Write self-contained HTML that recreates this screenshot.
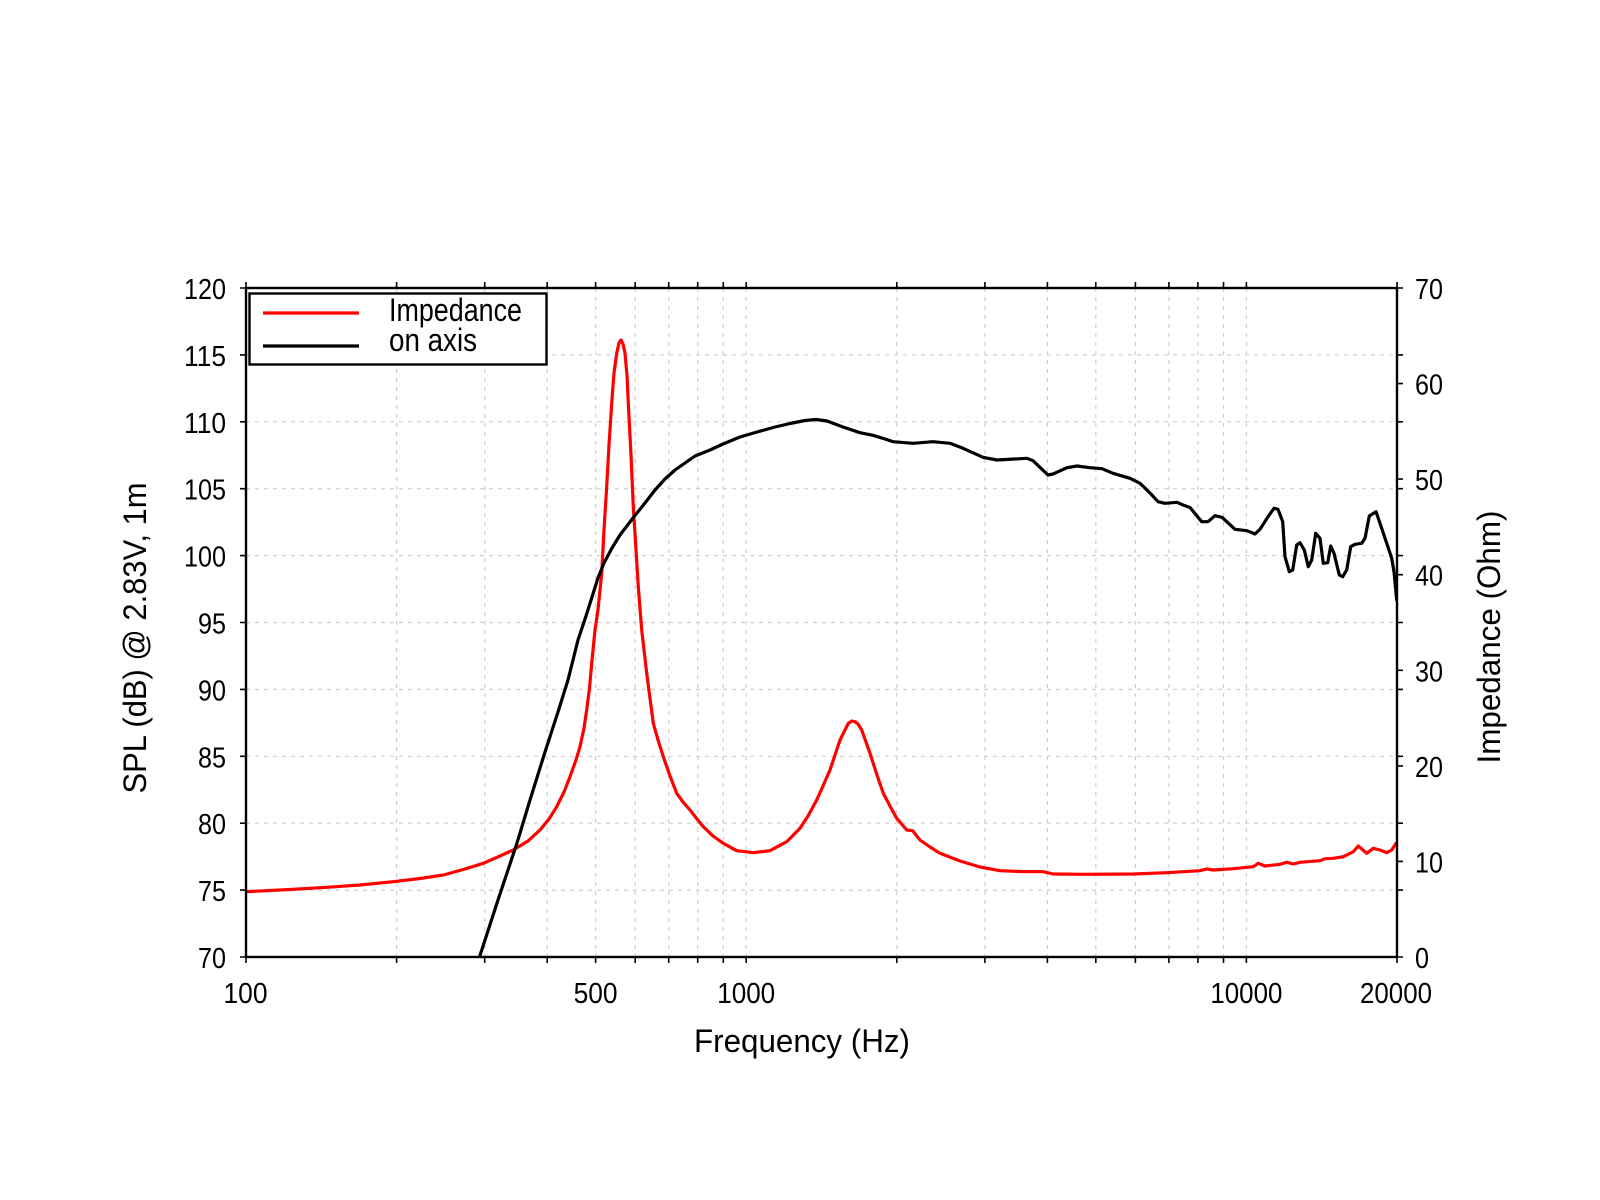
<!DOCTYPE html>
<html>
<head>
<meta charset="utf-8">
<style>
html,body{margin:0;padding:0;background:#fff;}
svg{display:block;}
text{font-family:"Liberation Sans",sans-serif;fill:#000;}
</style>
</head>
<body>
<svg width="1600" height="1200" viewBox="0 0 1600 1200" xmlns="http://www.w3.org/2000/svg">
<rect width="1600" height="1200" fill="#fff"/>
<defs>
<clipPath id="pc"><rect x="246" y="288" width="1151" height="669"/></clipPath>
</defs>
<!-- grid -->
<g stroke="#cfcfcf" stroke-width="1.2" stroke-dasharray="4,5" fill="none">
<path d="M396.6 288V957M484.7 288V957M547.2 288V957M595.6 288V957M635.2 288V957M668.7 288V957M697.7 288V957M723.3 288V957M746.2 288V957M896.8 288V957M984.9 288V957M1047.4 288V957M1095.8 288V957M1135.4 288V957M1168.9 288V957M1197.9 288V957M1223.5 288V957M1246.4 288V957"/>
<path d="M246 354.9H1397M246 421.8H1397M246 488.7H1397M246 555.6H1397M246 622.5H1397M246 689.4H1397M246 756.3H1397M246 823.2H1397M246 890.1H1397"/>
</g>
<!-- ticks -->
<g stroke="#000" stroke-width="1.6" fill="none">
<path d="M240 288H246M240 354.9H246M240 421.8H246M240 488.7H246M240 555.6H246M240 622.5H246M240 689.4H246M240 756.3H246M240 823.2H246M240 890.1H246M240 957H246"/>
<path d="M1397 288H1403M1397 354.9H1403M1397 421.8H1403M1397 488.7H1403M1397 555.6H1403M1397 622.5H1403M1397 689.4H1403M1397 756.3H1403M1397 823.2H1403M1397 890.1H1403M1397 957H1403"/>
<path d="M1397 383.6H1403M1397 479.1H1403M1397 574.7H1403M1397 670.3H1403M1397 765.9H1403M1397 861.4H1403"/>
<path d="M246 957V963M396.6 957V963M484.7 957V963M547.2 957V963M595.6 957V963M635.2 957V963M668.7 957V963M697.7 957V963M723.3 957V963M746.2 957V963M896.8 957V963M984.9 957V963M1047.4 957V963M1095.8 957V963M1135.4 957V963M1168.9 957V963M1197.9 957V963M1223.5 957V963M1246.4 957V963M1397 957V963"/>
<path d="M246 282V288M396.6 282V288M484.7 282V288M547.2 282V288M595.6 282V288M635.2 282V288M668.7 282V288M697.7 282V288M723.3 282V288M746.2 282V288M896.8 282V288M984.9 282V288M1047.4 282V288M1095.8 282V288M1135.4 282V288M1168.9 282V288M1197.9 282V288M1223.5 282V288M1246.4 282V288M1397 282V288"/>
</g>
<!-- curves -->
<g clip-path="url(#pc)" fill="none" stroke-linejoin="round" stroke-linecap="round" stroke-width="3.2">
<polyline stroke="#ff0000" points="246,891.7 290,889.5 326.7,887.3 360,885 393.3,881.7 420,878.5 443.3,875 465,869 483.3,863.3 500,856 513.3,850 528,841 540,830 549,819 556.7,806.7 564,792 570,776.7 576,760 580,746.7 584,728 586.7,710 589.5,688 591.7,663.3 595,630 598,610 601.7,573.3 604,530 606.7,486.7 609,445 611.7,403.3 614,373 616.7,353.3 619,343 621,340 623,344 625,353.3 627,375 628.3,403.3 631,455 633.3,506.7 636,550 638.3,586.7 641.7,630 646.7,673.3 653.3,723.3 658,740 663.3,756.7 670,776 676.7,793.3 683,802 690,810 697,819 703.3,826.7 713,836 723.3,843.3 736.7,850.7 753.3,852.7 770,850.7 786.7,841.7 800,828.3 808,816 816.7,800 823,786 830,770 840,740 848.3,723.3 852,721 855,721.7 858,724 861.7,730 870,753.3 877,775 883.3,793.3 890,806 896.7,818.3 906.7,830 912.7,830.7 920,840 930,847 940,853.3 960,861 980,867 1000,870.7 1020,871.5 1043.3,871.7 1053.3,874 1083.3,874.3 1133.3,874 1166.7,872.7 1200,870.7 1206.7,869 1213.3,870 1233.3,868.7 1253.3,866.7 1258.3,863.3 1265,866 1280,864.3 1286.7,862.3 1293.3,864 1300,862.3 1320,860.7 1325,858.7 1333.3,858.3 1343.3,856.7 1353.3,851.7 1358.3,846 1366.7,853.3 1373.3,848.3 1380,850 1386.7,852.7 1391.7,850 1396,843.3"/>
<polyline stroke="#000000" points="479.5,957 498,900 517,843 530,800 545,752 558,712 568,680 578,640 586,616 592,597 598,578 604,563 612,548 620,535 633,518 645,503 655,490 665,479 675,470 685,463 695,456 710,450 723,444 740,437 757,432 775,427 790,423.5 805,420.5 816,419.5 827,421 843,427 860,432.7 873,435.3 885,439 893,441.7 913,443.3 933,441.7 950,443.3 963,448.3 983,457.3 997,460 1027,458.3 1033,460.7 1048,475 1053,474 1067,467.7 1077,466 1090,467.7 1102,468.7 1113,473.3 1130,478.3 1140,483.3 1150,493 1158,501.7 1165,503.3 1177,502.3 1183,505 1190,507.5 1201.7,521.7 1208,521.7 1215,515.7 1222,517.3 1235,529.3 1247,530.7 1255,534 1260,529.3 1268,516.7 1274,508.3 1278,509.3 1282.7,521.7 1285,556.7 1289.3,571.7 1292.7,570 1296.7,545 1300,542.7 1304.3,550 1308.3,566.7 1311.7,560 1315.7,533.3 1320,538.3 1323.3,563.3 1327.7,562.7 1330.7,546 1334,553.3 1339.3,575 1342.7,576.7 1346.7,570 1350.7,546.7 1355,544.3 1361.7,543.3 1365,538.3 1369.3,516 1376,511.7 1380,523.3 1387.3,545 1391.7,558.3 1394,571.7 1396.7,600"/>
</g>
<!-- frame -->
<rect x="246" y="288" width="1151" height="669" fill="none" stroke="#000" stroke-width="2.4"/>
<!-- legend -->
<rect x="249.5" y="293.5" width="297" height="71" fill="#fff" stroke="#000" stroke-width="2.4"/>
<line x1="263" y1="313" x2="359" y2="313" stroke="#ff0000" stroke-width="3.2"/>
<line x1="263" y1="346" x2="359" y2="346" stroke="#000" stroke-width="3.2"/>
<text x="389" y="321" font-size="32" textLength="133" lengthAdjust="spacingAndGlyphs">Impedance</text>
<text x="389" y="351" font-size="32" textLength="88" lengthAdjust="spacingAndGlyphs">on axis</text>
<!-- left tick labels -->
<g font-size="29" text-anchor="end">
<text x="226" y="299" textLength="42" lengthAdjust="spacingAndGlyphs">120</text>
<text x="226" y="365.9" textLength="42" lengthAdjust="spacingAndGlyphs">115</text>
<text x="226" y="432.8" textLength="42" lengthAdjust="spacingAndGlyphs">110</text>
<text x="226" y="499.7" textLength="42" lengthAdjust="spacingAndGlyphs">105</text>
<text x="226" y="566.6" textLength="42" lengthAdjust="spacingAndGlyphs">100</text>
<text x="226" y="633.5" textLength="28" lengthAdjust="spacingAndGlyphs">95</text>
<text x="226" y="700.4" textLength="28" lengthAdjust="spacingAndGlyphs">90</text>
<text x="226" y="767.3" textLength="28" lengthAdjust="spacingAndGlyphs">85</text>
<text x="226" y="834.2" textLength="28" lengthAdjust="spacingAndGlyphs">80</text>
<text x="226" y="901.1" textLength="28" lengthAdjust="spacingAndGlyphs">75</text>
<text x="226" y="968" textLength="28" lengthAdjust="spacingAndGlyphs">70</text>
</g>
<!-- right tick labels -->
<g font-size="29">
<text x="1415" y="299" textLength="28" lengthAdjust="spacingAndGlyphs">70</text>
<text x="1415" y="394.6" textLength="28" lengthAdjust="spacingAndGlyphs">60</text>
<text x="1415" y="490.1" textLength="28" lengthAdjust="spacingAndGlyphs">50</text>
<text x="1415" y="585.7" textLength="28" lengthAdjust="spacingAndGlyphs">40</text>
<text x="1415" y="681.3" textLength="28" lengthAdjust="spacingAndGlyphs">30</text>
<text x="1415" y="776.9" textLength="28" lengthAdjust="spacingAndGlyphs">20</text>
<text x="1415" y="872.4" textLength="28" lengthAdjust="spacingAndGlyphs">10</text>
<text x="1415" y="968" textLength="14" lengthAdjust="spacingAndGlyphs">0</text>
</g>
<!-- bottom tick labels -->
<g font-size="29" text-anchor="middle">
<text x="245.5" y="1003" textLength="44" lengthAdjust="spacingAndGlyphs">100</text>
<text x="595.6" y="1003" textLength="44" lengthAdjust="spacingAndGlyphs">500</text>
<text x="746.2" y="1003" textLength="58" lengthAdjust="spacingAndGlyphs">1000</text>
<text x="1246.4" y="1003" textLength="72" lengthAdjust="spacingAndGlyphs">10000</text>
<text x="1396" y="1003" textLength="72" lengthAdjust="spacingAndGlyphs">20000</text>
</g>
<!-- axis labels -->
<text x="694" y="1052" font-size="32" textLength="216" lengthAdjust="spacingAndGlyphs">Frequency (Hz)</text>
<text transform="translate(146,638) rotate(-90)" font-size="32" text-anchor="middle" textLength="311" lengthAdjust="spacingAndGlyphs">SPL (dB) @ 2.83V, 1m</text>
<text transform="translate(1500,637) rotate(-90)" font-size="32" text-anchor="middle" textLength="253" lengthAdjust="spacingAndGlyphs">Impedance (Ohm)</text>
</svg>
</body>
</html>
